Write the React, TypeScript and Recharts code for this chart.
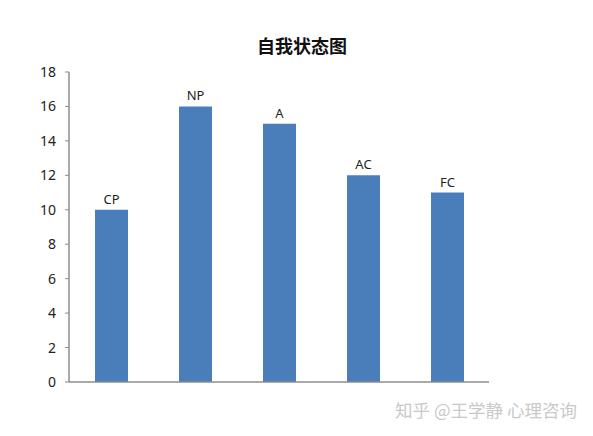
import React from "react";
import { BarChart, Bar, XAxis, YAxis, LabelList } from "recharts";

const categories = ["CP", "NP", "A", "AC", "FC"];
const values = [10, 16, 15, 12, 11];
const yTicks = [0, 2, 4, 6, 8, 10, 12, 14, 16, 18];
const title = "自我状态图";
const watermark = "知乎 @王学静 心理咨询";

const data = categories.map((name, i) => ({ name, value: values[i] }));

export default function App() {
  return (
    <div style={{ position: "absolute", left: 0, top: 0, width: 593, height: 436, background: "#fff" }}>
      <div
        style={{
          position: "absolute",
          left: 0,
          width: 604,
          top: 33,
          textAlign: "center",
          fontFamily: "'Noto Sans CJK SC', sans-serif",
          fontWeight: 700,
          fontSize: 18,
          lineHeight: "24px",
          color: "#111",
        }}
      >
        {title}
      </div>
      <BarChart
        width={593}
        height={436}
        data={data}
        margin={{ top: 72, right: 104, bottom: 53, left: 0 }}
        barSize={33}
      >
        <XAxis
          dataKey="name"
          tick={false}
          tickLine={false}
          height={1}
          axisLine={{ stroke: "#8c8c8c", strokeWidth: 1.5 }}
        />
        <YAxis
          width={69}
          domain={[0, 18]}
          ticks={yTicks}
          interval={0}
          tickSize={4}
          tickMargin={9}
          axisLine={{ stroke: "#8c8c8c", strokeWidth: 1.5 }}
          tickLine={{ stroke: "#8c8c8c" }}
          tick={{ fill: "#222", fontSize: 14, fontFamily: "'Noto Sans', sans-serif" }}
        />
        <Bar dataKey="value" fill="#4A7EBB" isAnimationActive={false}>
          <LabelList
            dataKey="name"
            position="top"
            offset={6}
            style={{ fill: "#222", fontSize: 13, fontFamily: "'Noto Sans', sans-serif" }}
          />
        </Bar>
      </BarChart>
      <div
        style={{
          position: "absolute",
          left: 395,
          top: 398,
          fontFamily: "'Noto Sans CJK SC', sans-serif",
          fontSize: 17.5,
          lineHeight: "24px",
          color: "#c9c9c9",
          whiteSpace: "nowrap",
        }}
      >
        {watermark}
      </div>
    </div>
  );
}
